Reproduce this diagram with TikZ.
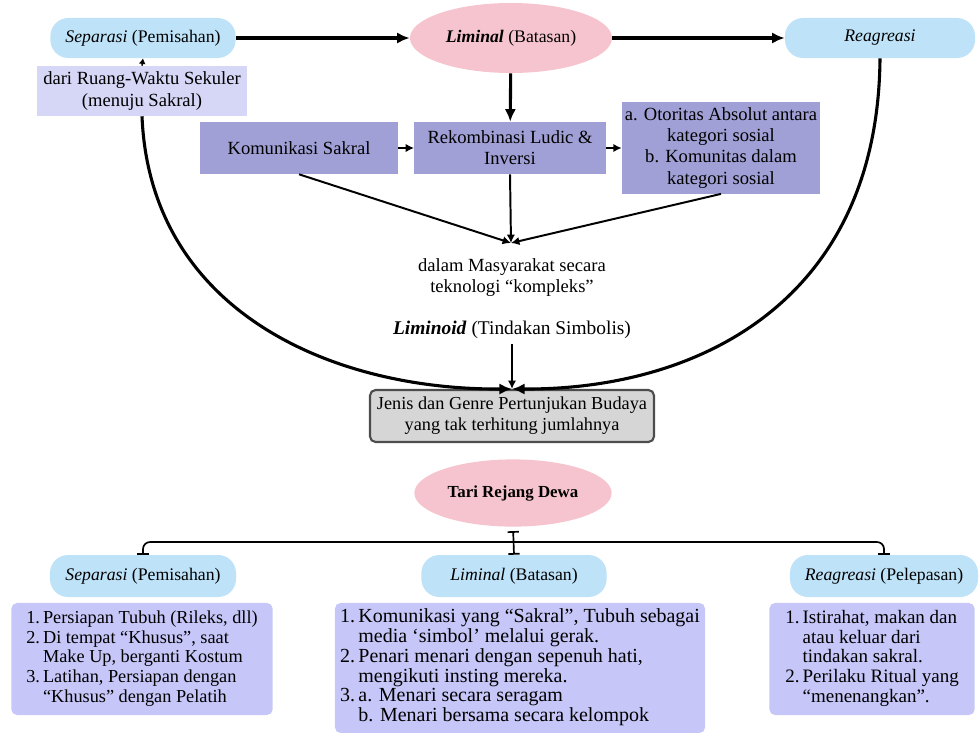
\documentclass[tikz,border=0pt]{standalone}
\usepackage{fontspec}
\setmainfont{Liberation Serif}
\usepackage{tikz}
\usetikzlibrary{positioning, arrows.meta, shapes}

\definecolor{pillblue}{RGB}{190,227,249}
\definecolor{pinkoval}{RGB}{246,196,206}
\definecolor{lavlight}{RGB}{214,214,246}
\definecolor{lavdark}{RGB}{160,160,214}
\definecolor{lavlist}{RGB}{198,198,248}
\definecolor{boxgray}{RGB}{214,214,214}

\begin{document}
\begin{tikzpicture}[x=0.025cm, y=-0.025cm,
    font=\fontsize{13.2}{15}\selectfont,
    pill/.style={rectangle, rounded corners=0.45cm, fill=pillblue, minimum height=1.0cm, inner sep=2pt, font=\fontsize{12.6}{15}\selectfont},
    oval/.style={ellipse, fill=pinkoval, inner sep=0pt},
    softbox/.style={rectangle, fill=lavlight, align=center, inner sep=1pt},
    darkbox/.style={rectangle, fill=lavdark, align=center, inner sep=1pt},
    listbox/.style={rectangle, rounded corners=4pt, fill=lavlist, align=left},
    bigarrow/.style={line width=2.2pt, -{Latex[length=9pt, width=8pt]}},
    thinarrow/.style={line width=1.4pt, -{Latex[length=6pt, width=6pt]}},
    barline/.style={line width=1.2pt, -{Bar[width=8pt]}}
]
    \useasboundingbox (0,0) rectangle (979,732);

    % Nodes (upper scheme)
    \node (sep1) at (143,38) [pill, minimum width=4.63cm] {\textit{Separasi} (Pemisahan)};
    \node (lim1) at (511,38) [oval, minimum width=5.05cm, minimum height=1.75cm, font=\fontsize{12.6}{15}\selectfont] {\textbf{\textit{Liminal}} (Batasan)};
    \node (rea1) at (880,38) [pill, minimum width=4.75cm] {\textit{Reagreasi}};
    \node (dari) at (142,91) [softbox, minimum width=5.25cm, minimum height=1.25cm] {dari Ruang-Waktu Sekuler\\(menuju Sakral)};
    \node (kom) at (299,148) [darkbox, minimum width=4.95cm, minimum height=1.3cm] {Komunikasi Sakral};
    \node (rek) at (510,148) [darkbox, minimum width=4.78cm, minimum height=1.3cm] {Rekombinasi Ludic \&\\Inversi};
    \node (oto) at (721,148) [darkbox, minimum width=4.95cm, minimum height=2.28cm] {a. Otoritas Absolut antara\\kategori sosial\\b. Komunitas dalam\\kategori sosial};
    \coordinate (meet) at (511,243);
    \node (dalam) at (512,278) [align=center] {dalam Masyarakat secara\\teknologi “kompleks”};
    \node (liminoid) at (512,330) [font=\fontsize{13.8}{15}\selectfont] {\textbf{\textit{Liminoid}} (Tindakan Simbolis)};
    \node (jenis) at (512,416) [rectangle, rounded corners=4pt, draw=black!70, line width=1.5pt, fill=boxgray, minimum width=7.1cm, minimum height=1.3cm, align=center, font=\fontsize{13}{15}\selectfont] {Jenis dan Genre Pertunjukan Budaya\\yang tak terhitung jumlahnya};

    % Arrows (upper scheme)
    \draw[bigarrow] (sep1) -- (lim1);
    \draw[bigarrow] (lim1) -- (rea1);
    \draw[bigarrow] (lim1) -- (rek);
    \draw[thinarrow] (kom) -- (rek);
    \draw[thinarrow] (rek) -- (oto);
    \draw[thinarrow] (kom.south) -- (meet);
    \draw[thinarrow] (rek.south) -- (meet);
    \draw[thinarrow] (oto.south) -- (meet);
    \draw[thinarrow] (liminoid) -- (jenis);
    \draw[line width=1pt, -{Latex[length=4pt, width=5pt]}] (dari.north) -- (sep1.south);
    \draw[bigarrow] (dari.south) .. controls (150,310) and (330,390) .. (jenis.north);
    \draw[bigarrow] (rea1.south) .. controls (878,300) and (700,390) .. (jenis.north);

    % Nodes (Tari Rejang Dewa)
    \node (tari) at (513,493) [oval, minimum width=4.93cm, minimum height=1.68cm, font=\fontsize{12}{15}\selectfont] {\textbf{Tari Rejang Dewa}};
    \node (sep2) at (143,576) [pill, minimum width=4.65cm, minimum height=1.05cm] {\textit{Separasi} (Pemisahan)};
    \node (lim2) at (514,576) [pill, minimum width=4.63cm, minimum height=1.05cm] {\textit{Liminal} (Batasan)};
    \node (rea2) at (884,576) [pill, minimum width=4.7cm, minimum height=1.05cm] {\textit{Reagreasi} (Pelepasan)};
    \coordinate (hub) at (513,542);

    \node (seplist) at (142,659) [listbox, minimum width=6.53cm, minimum height=2.8cm, font=\fontsize{13}{14}\selectfont] {%
        \begin{tabular}{@{}l@{\,}l@{}}
        1. & Persiapan Tubuh (Rileks, dll)\\
        2. & Di tempat “Khusus”, saat\\
           & Make Up, berganti Kostum\\
        3. & Latihan, Persiapan dengan\\
           & “Khusus” dengan Pelatih
        \end{tabular}};
    \node (limlist) at (520,668) [listbox, minimum width=9.25cm, minimum height=3.25cm, font=\fontsize{14.2}{13.8}\selectfont] {%
        \begin{tabular}{@{}l@{\,}l@{}}
        1. & Komunikasi yang “Sakral”, Tubuh sebagai\\
           & media ‘simbol’ melalui gerak.\\
        2. & Penari menari dengan sepenuh hati,\\
           & mengikuti insting mereka.\\
        3. & a. Menari secara seragam\\
           & b. Menari bersama secara kelompok
        \end{tabular}};
    \node (realist) at (872,659) [listbox, minimum width=5.13cm, minimum height=2.8cm, font=\fontsize{13.5}{14}\selectfont] {%
        \begin{tabular}{@{}l@{\,}l@{}}
        1. & Istirahat, makan dan\\
           & atau keluar dari\\
           & tindakan sakral.\\
        2. & Perilaku Ritual yang\\
           & “menenangkan”.
        \end{tabular}};

    % Connectors (Tari Rejang Dewa)
    \draw[barline, {Bar[width=8pt]}-{Bar[width=8pt]}, shorten <=3pt] (tari.south) -- (lim2.north);
    \draw[barline, rounded corners=5pt] (hub) -| (sep2.north);
    \draw[barline, rounded corners=5pt] (hub) -| (rea2.north);
\end{tikzpicture}
\end{document}
